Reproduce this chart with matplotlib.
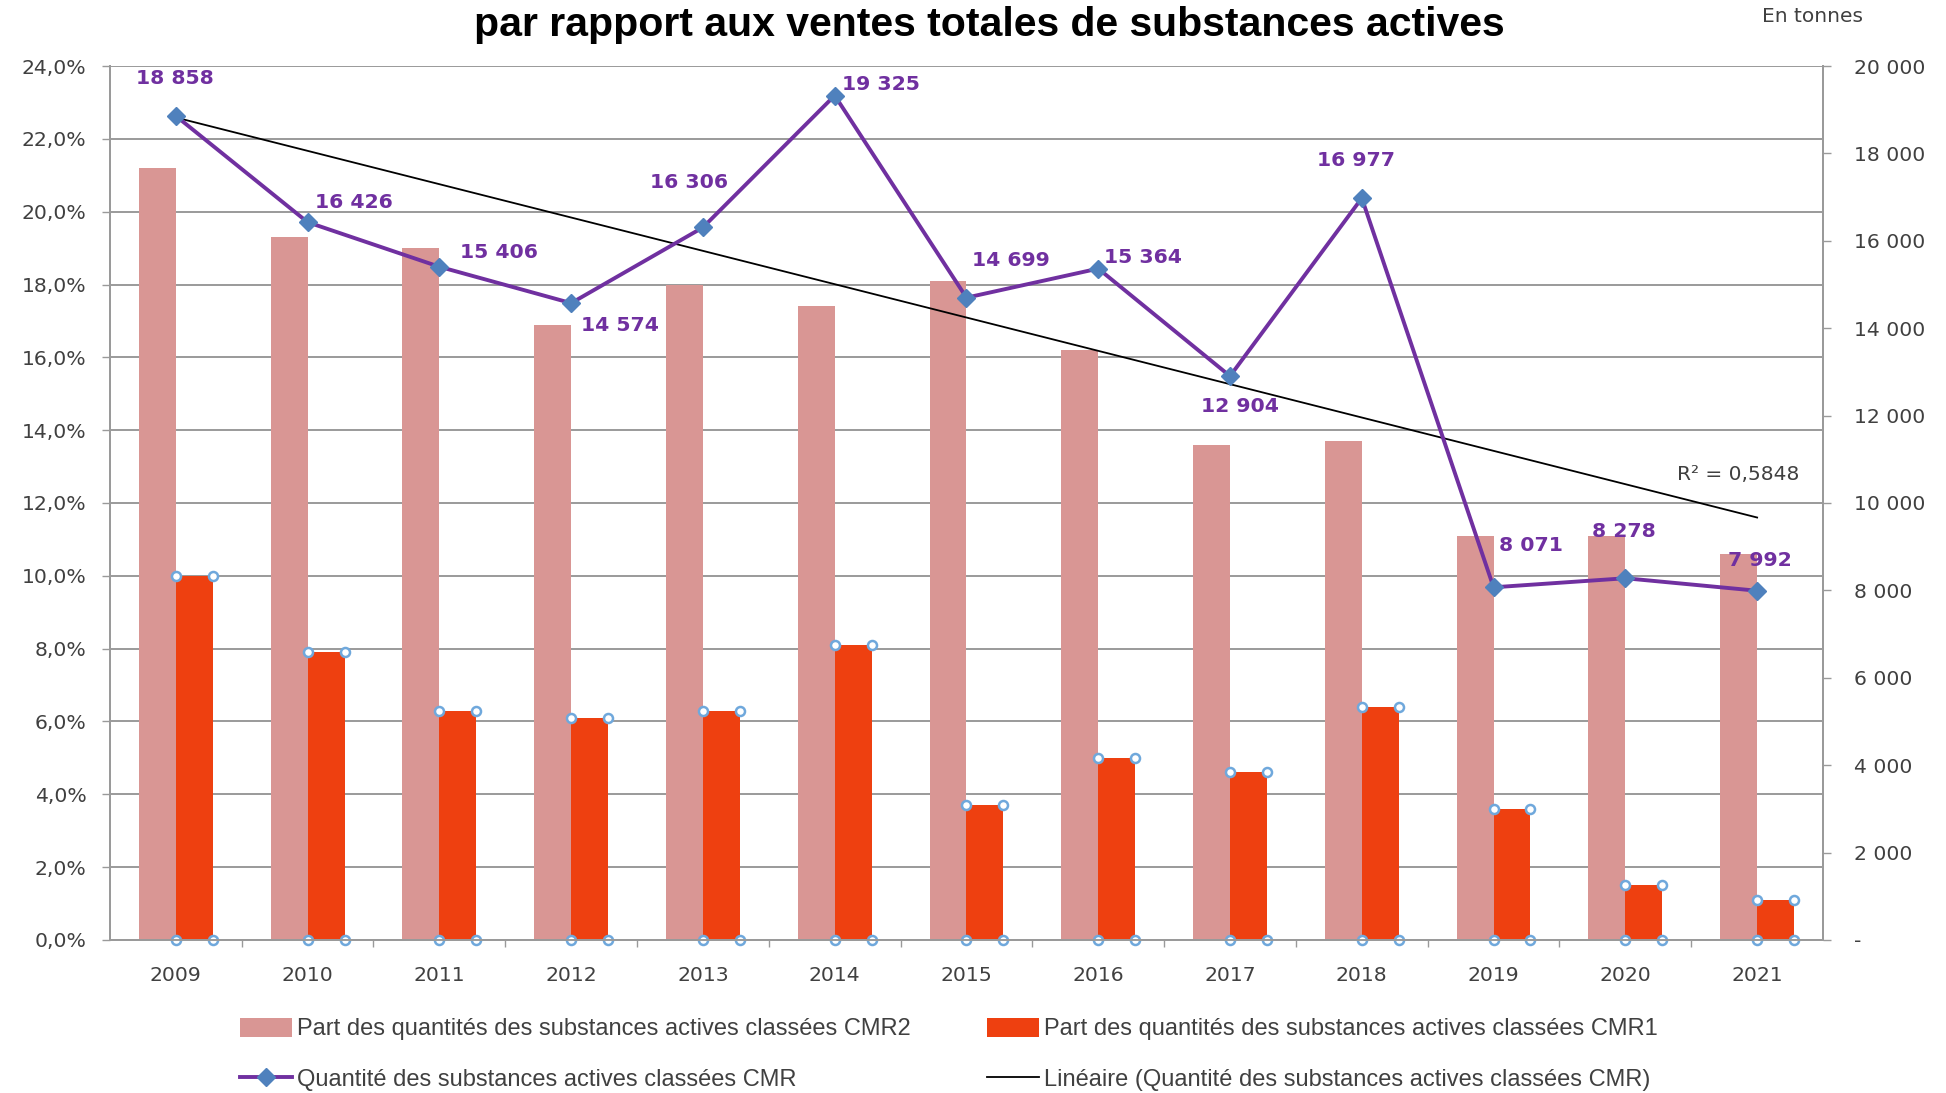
import numpy as np
import matplotlib
matplotlib.use("Agg")
import matplotlib.pyplot as plt
from matplotlib.ticker import FuncFormatter, FixedLocator

years = ["2009", "2010", "2011", "2012", "2013", "2014", "2015",
         "2016", "2017", "2018", "2019", "2020", "2021"]
# share of CMR2 / CMR1 substances in total sales (%)
part_cmr2 = [21.2, 19.3, 19.0, 16.9, 18.0, 17.4, 18.1, 16.2, 13.6, 13.7, 11.1, 11.1, 10.6]
part_cmr1 = [10.0, 7.9, 6.3, 6.1, 6.3, 8.1, 3.7, 5.0, 4.6, 6.4, 3.6, 1.5, 1.1]
# quantity of CMR substances sold (tonnes)
qte_cmr = [18858, 16426, 15406, 14574, 16306, 19325, 14699,
           15364, 12904, 16977, 8071, 8278, 7992]

# where each value label sits relative to its point (points, alignment)
label_offsets = [(-1, 27, "center"), (5, 14, "left"), (15, 10, "left"),
                 (7, -16, "left"), (-10, 32, "center"), (5, 8, "left"),
                 (4, 27, "left"), (4, 8, "left"), (7, -22, "center"),
                 (-4, 27, "center"), (4, 30, "left"), (-1, 34, "center"),
                 (2, 22, "center")]

pink = "#D99694"
red = "#EE4010"
purple = "#7030A0"
blue = "#4F81BD"
txt = "#404040"
grid = "#9A9A9A"

fmt_tonnes = lambda v: f"{int(round(v)):,}".replace(",", " ")

fig = plt.figure(figsize=(19.46, 10.93), dpi=100)
ax1 = fig.add_axes([0.0565, 0.1400, 0.8803, 0.7996])
ax2 = ax1.twinx()

x = np.arange(len(years))
w = 0.28
ax1.bar(x - w / 2, part_cmr2, width=w, color=pink, zorder=2,
        label="Part des quantités des substances actives classées CMR2")
ax1.bar(x + w / 2, part_cmr1, width=w, color=red, zorder=2,
        label="Part des quantités des substances actives classées CMR1")

# selection handles on the corners of the CMR1 bars
hx = np.concatenate([x, x + w, x, x + w])
hy = np.concatenate([part_cmr1, part_cmr1, np.zeros(len(x)), np.zeros(len(x))])
ax1.plot(hx, hy, ls="none", marker="o", ms=6.5, mfc="white", mec="#6FA8DC",
         mew=1.8, zorder=4, clip_on=False)

ax1.set_xlim(-0.5, len(years) - 0.5)
ax1.set_ylim(0, 24)
ax1.yaxis.set_major_locator(FixedLocator(np.arange(0, 24.1, 2)))
ax1.yaxis.set_major_formatter(FuncFormatter(lambda v, p: f"{v:.1f}%".replace(".", ",")))
ax1.grid(axis="y", color=grid, lw=1.4, zorder=0)
ax1.set_axisbelow(True)
ax1.set_xticks(x)
ax1.set_xticklabels(years)
ax1.set_xticks(np.arange(0.5, len(years) - 1, 1), minor=True)
ax1.tick_params(axis="x", which="major", length=0, pad=19, labelsize=14.7, labelcolor=txt)
ax1.tick_params(axis="x", which="minor", length=5, width=1, color=grid)
ax1.tick_params(axis="y", length=6, width=1, color=grid, pad=11, labelsize=14.7, labelcolor=txt)

# quantity line + linear trend on the right axis
ln, = ax2.plot(x, qte_cmr, color=purple, lw=2.8, marker="D", ms=9.5,
               mfc=blue, mec=blue, zorder=3,
               label="Quantité des substances actives classées CMR")
coef = np.polyfit(x, qte_cmr, 1)
trend = np.polyval(coef, x)
r2 = 1 - np.sum((np.array(qte_cmr) - trend) ** 2) / np.sum((np.array(qte_cmr) - np.mean(qte_cmr)) ** 2)
tl, = ax2.plot(x, trend, color="black", lw=1.3, zorder=2,
               label="Linéaire (Quantité des substances actives classées CMR)")

for xi, v, (dx, dy, ha) in zip(x, qte_cmr, label_offsets):
    ax2.annotate(fmt_tonnes(v), (xi, v), xytext=(dx, dy), textcoords="offset points",
                 ha=ha, va="center", color=purple, fontsize=14.7, fontweight="bold")

ax2.set_ylim(0, 20000)
ax2.yaxis.set_major_locator(FixedLocator(np.arange(0, 20001, 2000)))
ax2.yaxis.set_major_formatter(FuncFormatter(lambda v, p: "-" if v == 0 else fmt_tonnes(v)))
ax2.tick_params(axis="y", length=6, width=1, color=grid, pad=16, labelsize=14.7, labelcolor=txt)

for a in (ax1, ax2):
    a.spines["top"].set_visible(False)
    for s in ("left", "right", "bottom"):
        a.spines[s].set_color(grid)
        a.spines[s].set_linewidth(1.4)

fig.text(1738 / 1946, 1 - 474 / 1093, f"R² = {r2:.4f}".replace(".", ","),
         ha="center", va="center", fontsize=14.5, color=txt)

fig.text(989 / 1946, 1 - 25 / 1093, "par rapport aux ventes totales de substances actives",
         ha="center", va="center", fontsize=29.5, fontweight="bold", color="black",
         family="Liberation Sans")
fig.text(1812 / 1946, 1 - 17 / 1093, "En tonnes", ha="center", va="center",
         fontsize=14.5, color=txt)

h_bars = ax1.get_legend_handles_labels()
leg_kw = dict(loc="center left", frameon=False, borderpad=0, borderaxespad=0,
              handlelength=2.2, handleheight=0.85, handletextpad=0.2,
              labelspacing=1.2, numpoints=1,
              prop={"family": "Liberation Sans", "size": 17}, labelcolor=txt)
fig.legend([h_bars[0][0], ln], [h_bars[1][0], ln.get_label()],
           bbox_to_anchor=(240 / 1946, 1 - 1054.5 / 1093), **leg_kw)
fig.legend([h_bars[0][1], tl], [h_bars[1][1], tl.get_label()],
           bbox_to_anchor=(987 / 1946, 1 - 1054.5 / 1093), **leg_kw)

fig.savefig("out.png", dpi=100)
